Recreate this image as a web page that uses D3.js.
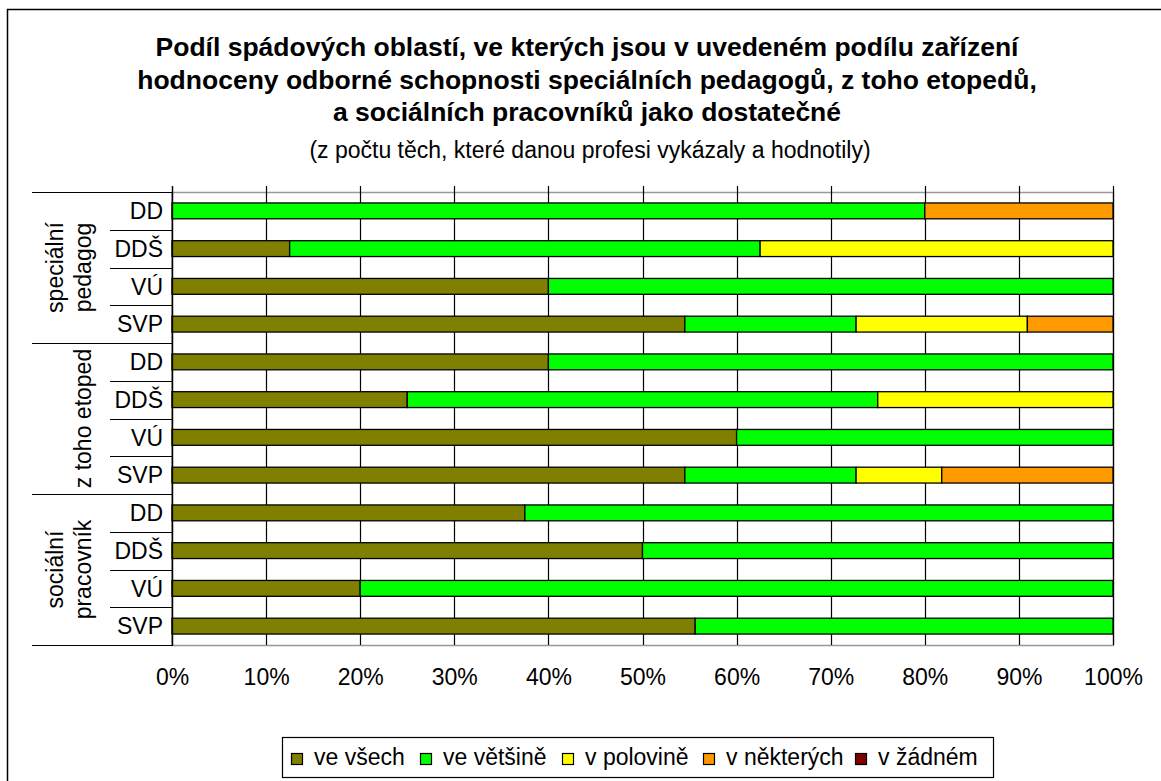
<!DOCTYPE html>
<html>
<head>
<meta charset="utf-8">
<script src="https://cdn.jsdelivr.net/npm/d3@7"></script>
<style>
  html, body { margin: 0; padding: 0; background: #fff; }
  svg { display: block; }
  text { font-family: "Liberation Sans", Arial, sans-serif; fill: #000; }
</style>
</head>
<body>
<svg id="chart" width="1161" height="781"></svg>
<script>
// ---- data ----
const groups = ["speciální pedagog", "z toho etoped", "sociální pracovník"];
const groupLines = [["speciální", "pedagog"], ["z toho etoped"], ["sociální", "pracovník"]];
const subcats = ["DD", "DDŠ", "VÚ", "SVP"];
const seriesNames = ["ve všech", "ve většině", "v polovině", "v některých", "v žádném"];
const seriesColors = ["#808000", "#00FF00", "#FFFF00", "#FF9900", "#800000"];
const veVsech     = [0, 12.5, 40, 54.5, 40, 25, 60, 54.5, 37.5, 50, 20, 55.6];
const veVetsine   = [80, 50, 60, 18.2, 60, 50, 40, 18.2, 62.5, 50, 80, 44.4];
const vPolovine   = [0, 37.5, 0, 18.2, 0, 25, 0, 9.1, 0, 0, 0, 0];
const vNekterych  = [20, 0, 0, 9.1, 0, 0, 0, 18.2, 0, 0, 0, 0];
const vZadnem     = [0, 0, 0, 0, 0, 0, 0, 0, 0, 0, 0, 0];
const xTicks = [0, 10, 20, 30, 40, 50, 60, 70, 80, 90, 100];
const titleLines = [
  "Podíl spádových oblastí, ve kterých jsou v uvedeném podílu zařízení",
  "hodnoceny odborné schopnosti speciálních pedagogů, z toho etopedů,",
  "a sociálních pracovníků jako dostatečné"
];
const subtitle = "(z počtu těch, které danou profesi vykázaly a hodnotily)";

// ---- build table ----
const seriesArrays = [veVsech, veVetsine, vPolovine, vNekterych, vZadnem];
const rows = [];
groups.forEach((g, gi) => subcats.forEach((s, si) => {
  const i = gi * subcats.length + si;
  const r = { key: g + "|" + s, group: g, sub: s };
  seriesNames.forEach((n, k) => r[n] = seriesArrays[k][i]);
  rows.push(r);
}));

const svg = d3.select("#chart");
const W = 1161, H = 781;
const plot = { left: 172, right: 1113, top: 192, bottom: 645 };
const FS = 23;

// outer frame
svg.append("rect").attr("x", 7.5).attr("y", 9.5).attr("width", W + 20).attr("height", H + 20)
  .attr("fill", "#fff").attr("stroke", "#000").attr("stroke-width", 1.5);

// title
const tg = svg.append("g").attr("text-anchor", "middle");
titleLines.forEach((t, i) => {
  tg.append("text").attr("x", 587).attr("y", 56 + i * 32.5)
    .attr("font-size", 26.5).attr("font-weight", "bold").text(t);
});
tg.append("text").attr("x", 590).attr("y", 158).attr("font-size", FS).text(subtitle);

// scales
const x = d3.scaleLinear().domain([0, 100]).range([plot.left, plot.right]);
const y = d3.scaleBand().domain(rows.map(r => r.key))
  .range([plot.top, plot.bottom]).paddingInner(0.58).paddingOuter(0.29);
const step = y.step();

// plot area border (gray)
svg.append("rect").attr("x", plot.left).attr("y", plot.top + 0.5)
  .attr("width", plot.right - plot.left + 0.5).attr("height", plot.bottom - plot.top)
  .attr("fill", "#fff").attr("stroke", "#999").attr("stroke-width", 1.5);

// vertical gridlines
svg.append("g").selectAll("line").data(xTicks).join("line")
  .attr("x1", d => Math.round(x(d)) + 0.5).attr("x2", d => Math.round(x(d)) + 0.5)
  .attr("y1", plot.top - 6).attr("y2", plot.bottom)
  .attr("stroke", "#000").attr("stroke-width", 1.2);

// x-axis labels
const xAxis = d3.axisBottom(x).tickValues(xTicks).tickFormat(d => d + "%").tickSize(0).tickPadding(0);
const xg = svg.append("g").attr("transform", `translate(0,${plot.bottom + 32})`).call(xAxis);
xg.select(".domain").remove();
xg.selectAll("text").attr("font-size", FS).attr("font-family", "Liberation Sans, Arial, sans-serif")
  .attr("fill", "#000").attr("dy", "0.35em");

// bars
const stack = d3.stack().keys(seriesNames);
const stacked = stack(rows);
svg.append("g").selectAll("g").data(stacked).join("g")
  .attr("fill", (d, i) => seriesColors[i])
  .selectAll("rect").data(d => d.filter(p => p[1] - p[0] > 0)).join("rect")
  .attr("x", p => x(p[0])).attr("width", p => x(p[1]) - x(p[0]))
  .attr("y", p => y(p.data.key)).attr("height", y.bandwidth())
  .attr("stroke", "#000").attr("stroke-width", 1.3);

// left axis line
svg.append("line").attr("x1", plot.left + 0.5).attr("x2", plot.left + 0.5)
  .attr("y1", plot.top - 6).attr("y2", plot.bottom + 1).attr("stroke", "#000").attr("stroke-width", 1.3);

// category axis: sub labels
const yAxis = d3.axisLeft(y).tickFormat(k => k.split("|")[1]).tickSize(0).tickPadding(9);
const yg = svg.append("g").attr("transform", `translate(${plot.left},0)`).call(yAxis);
yg.select(".domain").remove();
yg.selectAll("text").attr("font-size", FS).attr("font-family", "Liberation Sans, Arial, sans-serif")
  .attr("fill", "#000").attr("dy", "0.36em");

// row separators
const sepG = svg.append("g").attr("stroke", "#000").attr("stroke-width", 1.2);
rows.forEach((r, i) => {
  if (i === 0) return;
  const yy = Math.round(y(r.key) - (step - y.bandwidth()) / 2) + 0.5;
  const isGroup = i % subcats.length === 0;
  sepG.append("line").attr("x1", isGroup ? 32 : 110).attr("x2", plot.left).attr("y1", yy).attr("y2", yy);
});
[plot.top, plot.bottom].forEach(yy => {
  sepG.append("line").attr("x1", 32).attr("x2", plot.left).attr("y1", yy + 0.5).attr("y2", yy + 0.5);
});

// group labels (rotated)
groups.forEach((g, gi) => {
  const first = rows[gi * subcats.length].key;
  const cy = y(first) - (step - y.bandwidth()) / 2 + step * subcats.length / 2;
  const lines = groupLines[gi];
  const baseXs = lines.length === 2 ? [63, 91] : [91];
  lines.forEach((t, li) => {
    svg.append("text").attr("transform", `translate(${baseXs[li]},${cy}) rotate(-90)`)
      .attr("text-anchor", "middle").attr("font-size", FS).text(t);
  });
});

// legend
const lg = svg.append("g");
lg.append("rect").attr("x", 282.5).attr("y", 737.5).attr("width", 711).attr("height", 40)
  .attr("fill", "#fff").attr("stroke", "#000").attr("stroke-width", 1.2);
const legendX = [291, 420, 562, 703, 855];
seriesNames.forEach((n, i) => {
  lg.append("rect").attr("x", legendX[i] + 0.5).attr("y", 753.5).attr("width", 11).attr("height", 11)
    .attr("fill", seriesColors[i]).attr("stroke", "#000").attr("stroke-width", 1.2);
  lg.append("text").attr("x", legendX[i] + 23).attr("y", 765).attr("font-size", FS).text(n);
});
</script>
</body>
</html>
